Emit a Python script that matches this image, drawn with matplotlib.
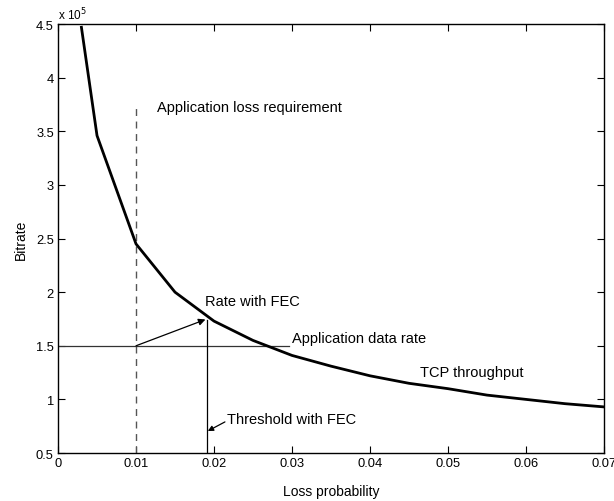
import matplotlib
matplotlib.use("Agg")
import matplotlib.pyplot as plt
from matplotlib.ticker import FuncFormatter

plt.rcParams["font.family"] = ["Liberation Sans", "DejaVu Sans"]

# -- data ------------------------------------------------------------
loss_prob = [0.003, 0.005, 0.010, 0.015, 0.020, 0.025, 0.030, 0.035,
             0.040, 0.045, 0.050, 0.055, 0.060, 0.065, 0.070]
tcp_rate = [4.47e5, 3.46e5, 2.45e5, 2.00e5, 1.73e5, 1.55e5, 1.41e5, 1.31e5,
            1.22e5, 1.15e5, 1.10e5, 1.04e5, 1.00e5, 0.96e5, 0.93e5]

loss_req = 0.01          # application loss requirement
loss_req_top = 3.72e5
app_rate = 1.5e5         # application data rate
app_rate_end = 0.0296
fec_thresh = 0.0191      # threshold with FEC
fec_rate = 1.745e5

x_ticks = [0, 0.01, 0.02, 0.03, 0.04, 0.05, 0.06, 0.07]
y_ticks = [0.5e5, 1e5, 1.5e5, 2e5, 2.5e5, 3e5, 3.5e5, 4e5, 4.5e5]

# -- figure ----------------------------------------------------------
fig = plt.figure(figsize=(6.14, 5.02), dpi=100)
ax = fig.add_axes([0.0945, 0.0956, 0.8892, 0.8544])

ax.plot(loss_prob, tcp_rate, color="black", linewidth=2.0, zorder=3)
ax.plot([loss_req, loss_req], [0.5e5, loss_req_top], color="#555555",
        linestyle=(0, (5, 4)), linewidth=1.0)
ax.plot([0, app_rate_end], [app_rate, app_rate], color="#333333", linewidth=0.9)
ax.plot([fec_thresh, fec_thresh], [0.5e5, fec_rate], color="black", linewidth=0.9)

# arrow: application rate -> rate with FEC
ax.annotate("", xy=(fec_thresh - 0.0002, fec_rate), xytext=(loss_req, app_rate),
            arrowprops=dict(arrowstyle="-|>", color="black", lw=0.9,
                            mutation_scale=10, shrinkA=0, shrinkB=0))
# arrow: label -> threshold line
ax.annotate("", xy=(fec_thresh + 0.0001, 0.705e5), xytext=(0.0214, 0.79e5),
            arrowprops=dict(arrowstyle="-|>", color="black", lw=0.9,
                            mutation_scale=8, shrinkA=0, shrinkB=0))

fs = 10.5
ax.text(0.0127, 3.73e5, "Application loss requirement", fontsize=fs, va="center")
ax.text(0.0188, 1.92e5, "Rate with FEC", fontsize=fs, va="center")
ax.text(0.0300, 1.57e5, "Application data rate", fontsize=fs, va="center")
ax.text(0.0464, 1.255e5, "TCP throughput", fontsize=fs, va="center")
ax.text(0.0217, 0.82e5, "Threshold with FEC", fontsize=fs, va="center")

ax.set_xlim(0, 0.07)
ax.set_ylim(0.5e5, 4.5e5)
ax.set_xticks(x_ticks)
ax.set_yticks(y_ticks)
ax.xaxis.set_major_formatter(FuncFormatter(lambda v, p: f"{v:g}"))
ax.yaxis.set_major_formatter(FuncFormatter(lambda v, p: f"{v / 1e5:g}"))
ax.tick_params(direction="in", top=True, right=True, labelsize=9.3,
               length=5, width=0.8, pad=3)
for s in ax.spines.values():
    s.set_linewidth(1.0)

ax.text(0.0, 1.005, r"x 10$^5$", transform=ax.transAxes, fontsize=8.5,
        ha="left", va="bottom")

ax.set_xlabel("Loss probability", fontsize=10, labelpad=11)
ax.set_ylabel("Bitrate", fontsize=10, labelpad=6)

fig.savefig("out.png", dpi=100, facecolor="white")
